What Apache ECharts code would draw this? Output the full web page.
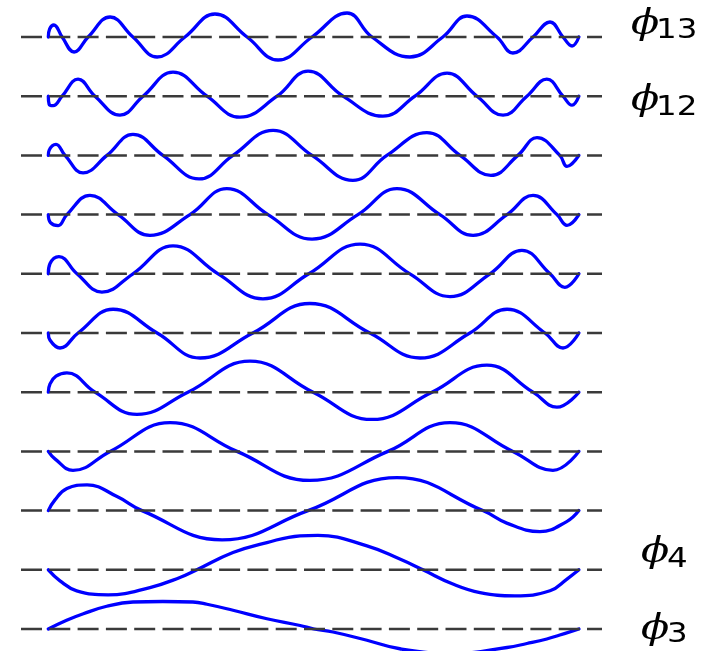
<!DOCTYPE html>
<html>
<head>
<meta charset="utf-8">
<script src="https://cdn.jsdelivr.net/npm/echarts@6/dist/echarts.min.js"></script>
<style>
  html, body { margin: 0; padding: 0; background: #ffffff; }
  #chart { width: 717px; height: 651px; }
</style>
</head>
<body>
<div id="chart"></div>
<script>
// Mode shapes on the interval [-1, 1]: [position, amplitude]
const phi13 = [[-1,0],[-0.995,0.32],[-0.979,0.48],[-0.948,0],[-0.903,-0.6],[-0.85,0],[-0.767,0.8],[-0.681,0],[-0.59,-0.8],[-0.485,0],[-0.372,0.92],[-0.251,0],[-0.134,-0.92],[-0.006,0],[0.126,0.96],[0.22,0],[0.363,-0.8],[0.487,0],[0.578,0.84],[0.691,0],[0.751,-0.64],[0.827,0],[0.891,0.6],[0.94,0],[0.974,-0.36],[1,0]];
const phi12 = [[-1,0],[-0.997,-0.32],[-0.982,-0.38],[-0.948,0],[-0.888,0.68],[-0.824,0],[-0.73,-0.76],[-0.643,0],[-0.53,0.96],[-0.402,0],[-0.278,-0.84],[-0.138,0],[-0.021,1.0],[0.111,0],[0.261,-0.8],[0.382,0],[0.503,0.92],[0.616,0],[0.714,-0.76],[0.804,0],[0.879,0.68],[0.94,0],[0.974,-0.36],[1,0]];
const phi11 = [[-1,0],[-0.997,0.2],[-0.971,0.44],[-0.937,0],[-0.869,-0.7],[-0.779,0],[-0.681,0.84],[-0.568,0],[-0.432,-0.94],[-0.304,0],[-0.153,1.0],[-0.006,0],[0.148,-1.0],[0.276,0],[0.427,0.91],[0.552,0],[0.668,-0.8],[0.77,0],[0.842,0.71],[0.928,0],[0.955,-0.44],[1,0]];
const phi10 = [[-1,0],[-0.992,-0.32],[-0.963,-0.44],[-0.93,0],[-0.843,0.77],[-0.737,0],[-0.617,-0.83],[-0.466,0],[-0.327,1.04],[-0.172,0],[-0.006,-0.98],[0.167,0],[0.314,1.04],[0.476,0],[0.601,-0.83],[0.729,0],[0.827,0.77],[0.917,0],[0.955,-0.43],[1,0]];
const phi9  = [[-1,0],[-0.994,0.4],[-0.96,0.69],[-0.892,0],[-0.798,-0.73],[-0.681,0],[-0.53,1.12],[-0.36,0],[-0.191,-1.0],[-0.018,0],[0.175,1.19],[0.363,0],[0.514,-0.91],[0.665,0],[0.785,0.94],[0.891,0],[0.947,-0.54],[1,0]];
const phi8  = [[-1,0],[-0.994,-0.28],[-0.956,-0.6],[-0.888,0],[-0.756,0.95],[-0.59,0],[-0.428,-1.0],[-0.229,0],[-0.014,1.18],[0.212,0],[0.401,-1.0],[0.589,0],[0.729,0.95],[0.872,0],[0.94,-0.6],[1,0]];
const phi7  = [[-1,0],[-0.994,0.32],[-0.971,0.64],[-0.93,0.77],[-0.824,0],[-0.666,-0.89],[-0.474,0],[-0.24,1.24],[-0.002,0],[0.22,-1.09],[0.446,0],[0.653,1.08],[0.827,0],[0.917,-0.6],[1,0]];
const phi6  = [[-1,0],[-0.975,-0.3],[-0.907,-0.76],[-0.767,0],[-0.541,1.15],[-0.289,0],[-0.014,-1.16],[0.28,0],[0.514,1.15],[0.751,0],[0.902,-0.76],[1,0]];
const phi5  = [[-1,0],[-0.975,0.43],[-0.93,0.88],[-0.854,1.03],[-0.741,0.56],[-0.647,0],[-0.345,-1.17],[-0.021,0],[0.314,1.32],[0.638,0],[0.728,-0.5],[0.853,-0.84],[0.954,-0.44],[1,0]];
const phi4  = [[-1,0],[-0.956,-0.44],[-0.893,-0.84],[-0.775,-1.0],[-0.617,-0.71],[-0.504,-0.31],[-0.44,0],[-0.304,0.69],[-0.176,1.09],[-0.051,1.36],[0.016,1.38],[0.201,0.96],[0.325,0.43],[0.412,0],[0.525,-0.57],[0.627,-0.91],[0.759,-1.04],[0.891,-0.84],[0.955,-0.37],[1,0]];
const phi3  = [[-1,0],[-0.931,0.35],[-0.868,0.61],[-0.78,0.91],[-0.681,1.08],[-0.568,1.1],[-0.455,1.08],[-0.402,0.99],[-0.304,0.75],[-0.176,0.41],[-0.051,0.14],[0.001,0],[0.073,-0.12],[0.201,-0.45],[0.325,-0.79],[0.533,-0.98],[0.729,-0.74],[0.804,-0.58],[0.879,-0.4],[0.928,-0.24],[1,0]];

// stacked top to bottom
const modes = [phi13, phi12, phi11, phi10, phi9, phi8, phi7, phi6, phi5, phi4, phi3];
// labelled rows and their subscripts
const labelRows = [0, 1, 9, 10];
const labelNames = ['13', '12', '4', '3'];

// layout: row baselines are ROW_STEP apart; each grid is a band around its baseline
const X_MIN = -1.103, X_MAX = 1.087;
const FIRST_BASE = 37, ROW_STEP = 59.2;
const BAND_H = 40, Y_HALF = 0.8;   // 25 px per unit
const labelPos = [
  { px: 645, py: 25, sx: 656, sy: 31 },
  { px: 645, py: 101, sx: 656, sy: 108 },
  { px: 655, py: 553, sx: 667, sy: 560 },
  { px: 655, py: 630, sx: 667, sy: 635 }
];

const chart = echarts.init(document.getElementById('chart'), null, { renderer: 'canvas' });

const grids = [], xAxes = [], yAxes = [], series = [];
modes.forEach((data, k) => {
  grids.push({ left: 21, width: 581, top: FIRST_BASE + k * ROW_STEP - BAND_H / 2, height: BAND_H });
  xAxes.push({ gridIndex: k, type: 'value', min: X_MIN, max: X_MAX, show: false });
  yAxes.push({ gridIndex: k, type: 'value', min: -Y_HALF, max: Y_HALF, show: false });
  series.push({
    type: 'line', xAxisIndex: k, yAxisIndex: k, data: data,
    symbol: 'none', smooth: 0.44, clip: false, z: 2, silent: true,
    lineStyle: { color: '#0000ff', width: 3.3, cap: 'round', join: 'round' }
  });
  series.push({
    type: 'line', xAxisIndex: k, yAxisIndex: k, data: [[X_MIN, 0], [X_MAX, 0]],
    symbol: 'none', z: 3, silent: true,
    lineStyle: { color: '#3a3a3a', width: 2.5, type: [21, 7.3] }
  });
});

const graphic = [];
labelRows.forEach((r, i) => {
  const p = labelPos[i];
  graphic.push({
    type: 'text', x: p.px, y: p.py, scaleX: 1.15, silent: true,
    style: { text: '\u03D5', font: 'italic 36px "DejaVu Serif"', fill: '#000', align: 'center', verticalAlign: 'middle' }
  });
  graphic.push({
    type: 'text', x: p.sx, y: p.sy, scaleX: 1.25, silent: true,
    style: { text: labelNames[i], font: '26px "DejaVu Sans"', fill: '#000', align: 'left', verticalAlign: 'middle' }
  });
});

chart.setOption({
  animation: false,
  backgroundColor: '#ffffff',
  grid: grids,
  xAxis: xAxes,
  yAxis: yAxes,
  series: series,
  graphic: graphic
});
</script>
</body>
</html>
